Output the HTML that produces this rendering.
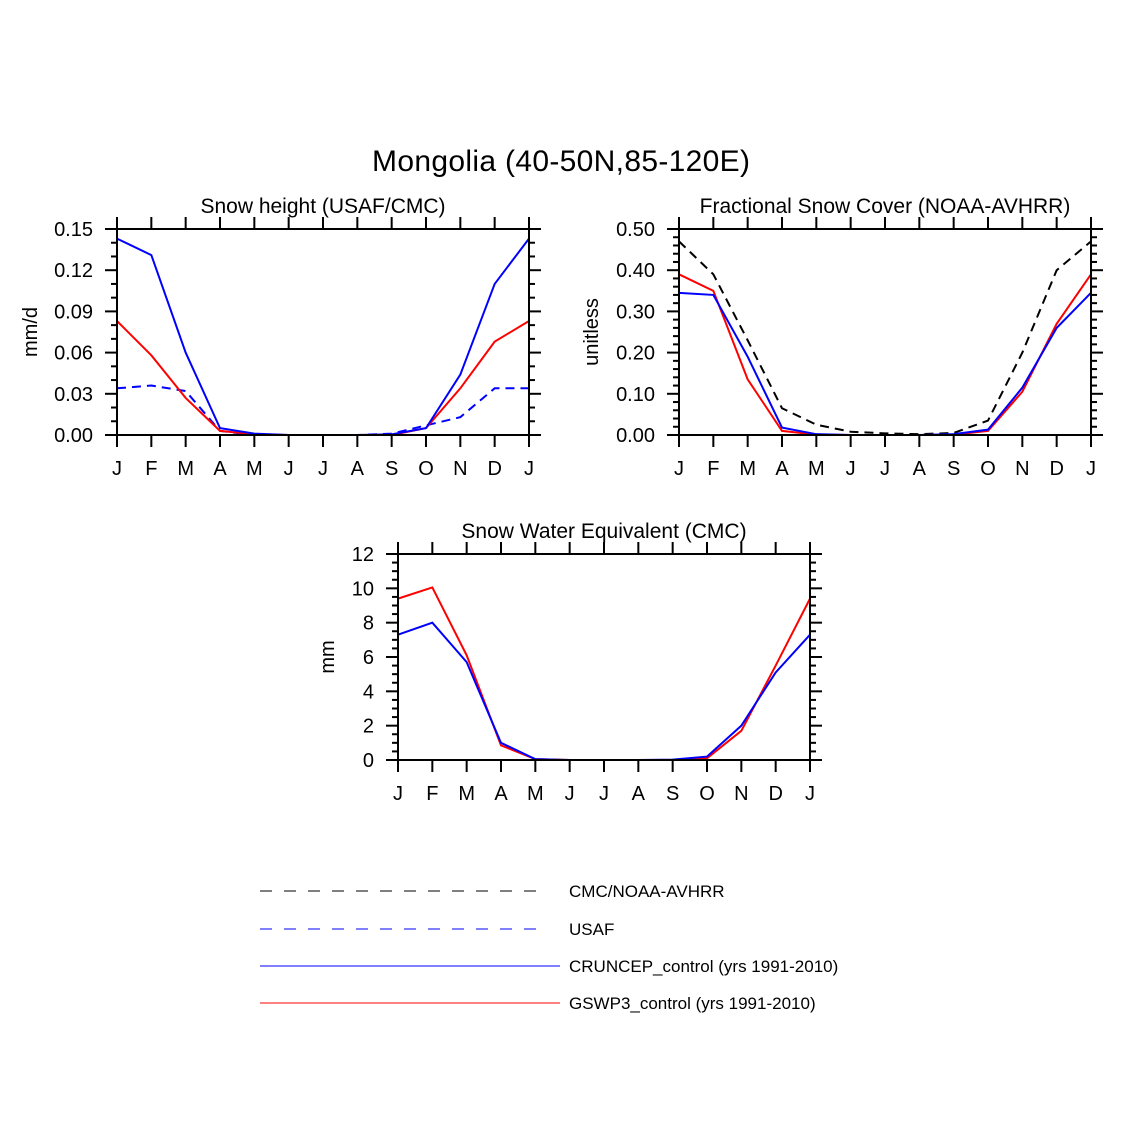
<!DOCTYPE html>
<html><head><meta charset="utf-8">
<style>
body{margin:0;background:#fff;}
svg{display:block;font-family:"Liberation Sans",Arial,sans-serif;}
</style></head>
<body>
<svg id="chart" width="1122" height="1122" viewBox="0 0 1122 1122">
<text x="561" y="171" font-size="30" text-anchor="middle" textLength="378">Mongolia (40-50N,85-120E)</text>
</svg>
<script>
const months = ["J","F","M","A","M","J","J","A","S","O","N","D","J"];
// Panel 1: Snow height
const p1Cruncep = [0.143,0.131,0.060,0.005,0.001,0,0,0,0.0005,0.005,0.044,0.110,0.143];
const p1Gswp3 = [0.083,0.058,0.027,0.003,0.0005,0,0,0,0,0.005,0.034,0.068,0.083];
const p1Usaf = [0.034,0.036,0.032,0.003,0,0,0,0,0.001,0.007,0.013,0.034,0.034];
const p1Ticks = ["0.00","0.03","0.06","0.09","0.12","0.15"];
// Panel 2: Fractional snow cover
const p2Obs = [0.47,0.39,0.23,0.065,0.025,0.008,0.004,0.002,0.005,0.035,0.20,0.40,0.47];
const p2Gswp3 = [0.39,0.35,0.135,0.01,0.001,0,0,0,0.001,0.01,0.105,0.27,0.39];
const p2Cruncep = [0.345,0.34,0.19,0.018,0.002,0,0,0,0.002,0.013,0.115,0.26,0.345];
const p2Ticks = ["0.00","0.10","0.20","0.30","0.40","0.50"];
// Panel 3: SWE
const p3Gswp3 = [9.4,10.05,6.1,0.85,0.05,0,0,0,0,0.1,1.7,5.5,9.4];
const p3Cruncep = [7.3,8.0,5.7,1.0,0.05,0,0,0,0.02,0.2,2.0,5.1,7.3];
const p3Obs = [0,0,0,0,0,0,0,0,0,0,0,0,0];
const p3Ticks = ["0","2","4","6","8","10","12"];

const NS="http://www.w3.org/2000/svg";
const svg=document.getElementById('chart');
function mk(tag,attrs,parent){const e=document.createElementNS(NS,tag);for(const k in attrs)e.setAttribute(k,attrs[k]);(parent||svg).appendChild(e);return e;}

function panel(opt){
  const g=mk('g',{});
  
  
  const {x0,x1,y0,y1,ymax}=opt;
  const xs=i=>x0+(x1-x0)*i/12;
  const ys=v=>y1-(y1-y0)*v/ymax;
  opt.series.forEach(s=>{
    const p=mk('polyline',{points:s.vals.map((v,i)=>xs(i)+','+ys(v)).join(' '),fill:'none',stroke:s.color,'stroke-width':2,'stroke-dasharray':s.dash||'none'},g);
    
    
  });
  const fr=mk('rect',{x:x0,y:y0,width:x1-x0,height:y1-y0,fill:'none',stroke:'#000','stroke-width':2},g);
  
  
  months.forEach((m,i)=>{
    const x=xs(i);
    mk('line',{x1:x,x2:x,y1:y1,y2:y1+12,stroke:'#000','stroke-width':2},g);
    mk('line',{x1:x,x2:x,y1:y0,y2:y0-12,stroke:'#000','stroke-width':2},g);
    const t=mk('text',{x:x,y:y1+40,'font-size':20,'text-anchor':'middle'},g);
    t.textContent=m;
    
    
  });
  const n=opt.ticks.length-1;
  opt.ticks.forEach((lab,i)=>{
    const y=ys(ymax*i/n);
    mk('line',{x1:x0,x2:x0-12,y1:y,y2:y,stroke:'#000','stroke-width':2},g);
    mk('line',{x1:x1,x2:x1+12,y1:y,y2:y,stroke:'#000','stroke-width':2},g);
    const t=mk('text',{x:x0-24,y:y+7,'font-size':20,'text-anchor':'end'},g);
    t.textContent=lab;
    
    
  });
  const nm=n*opt.minor;
  for(let k=0;k<=nm;k++){ if(k%opt.minor===0)continue;
    const y=ys(ymax*k/nm);
    mk('line',{x1:x0,x2:x0-6,y1:y,y2:y,stroke:'#000','stroke-width':2},g);
    mk('line',{x1:x1,x2:x1+6,y1:y,y2:y,stroke:'#000','stroke-width':2},g);
  }
  const tt=mk('text',{x:(x0+x1)/2,y:y0-16,'font-size':21,'text-anchor':'middle'},g);
  tt.textContent=opt.title;
  
  
  const yl=mk('text',{x:0,y:0,'font-size':20,'text-anchor':'middle',transform:`translate(${opt.ylx},${(y0+y1)/2}) rotate(-90)`},g);
  yl.textContent=opt.ylabel;
  
  
}
panel({name:'snow-height-panel',x0:117,x1:529,y0:229,y1:435,ymax:0.15,ticks:p1Ticks,minor:3,title:'Snow height (USAF/CMC)',ylabel:'mm/d',ylx:37,
  series:[{name:'usaf-line',vals:p1Usaf,color:'#0000ff',dash:'9,6'},{name:'gswp3-line',vals:p1Gswp3,color:'#ff0000'},{name:'cruncep-line',vals:p1Cruncep,color:'#0000ff'}]});
panel({name:'snow-cover-panel',x0:679,x1:1091,y0:229,y1:435,ymax:0.5,ticks:p2Ticks,minor:5,title:'Fractional Snow Cover (NOAA-AVHRR)',ylabel:'unitless',ylx:598,
  series:[{name:'noaa-avhrr-line',vals:p2Obs,color:'#000',dash:'9,6'},{name:'gswp3-line',vals:p2Gswp3,color:'#ff0000'},{name:'cruncep-line',vals:p2Cruncep,color:'#0000ff'}]});
panel({name:'swe-panel',x0:398,x1:810,y0:554,y1:760,ymax:12,ticks:p3Ticks,minor:4,title:'Snow Water Equivalent (CMC)',ylabel:'mm',ylx:334,
  series:[{name:'cmc-line',vals:p3Obs,color:'#000',dash:'9,6'},{name:'gswp3-line',vals:p3Gswp3,color:'#ff0000'},{name:'cruncep-line',vals:p3Cruncep,color:'#0000ff'}]});

const leg=[["CMC/NOAA-AVHRR","#000","12,12",545,891],["USAF","#0000ff","12,12",545,929],["CRUNCEP_control (yrs 1991-2010)","#0000ff","none",560,966],["GSWP3_control (yrs 1991-2010)","#ff0000","none",560,1003]];
leg.forEach(l=>{
  const g=mk('g',{});
  
  
  mk('line',{x1:260,x2:l[3],y1:l[4],y2:l[4],stroke:l[1],'stroke-width':1,'stroke-dasharray':l[2]},g);
  const t=mk('text',{x:569,y:l[4]+6,'font-size':17},g);
  t.textContent=l[0];
});
</script>
</body></html>
